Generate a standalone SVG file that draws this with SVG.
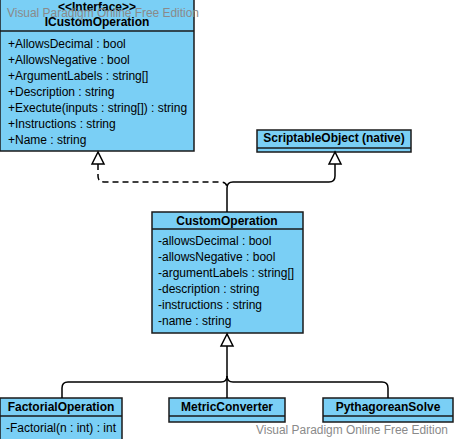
<svg xmlns="http://www.w3.org/2000/svg" width="454" height="439" viewBox="0 0 454 439">
<style>
.box{fill:#7ACFF5;stroke:#1a1a1a;stroke-width:1.5}
.div{stroke:#1a1a1a;stroke-width:1.5}
text{font-family:"Liberation Sans",Arial,sans-serif;font-size:12px;fill:#000}
.t{font-weight:bold;text-anchor:middle}
.wm{fill:#8a8a8a;font-size:12px}
.c{fill:none;stroke:#000;stroke-width:1.5}
.d{stroke-dasharray:6,4}
.arr{fill:#fff;stroke:#000;stroke-width:1.5}
</style>
<rect width="454" height="439" fill="#fff"/>
<g id="ICustomOperation">
<rect class="box" x="0" y="-3" width="194" height="154"/>
<line class="div" x1="0" y1="31" x2="194" y2="31"/>
<text class="t" x="97" y="11">&lt;&lt;Interface&gt;&gt;</text>
<text class="t" x="97" y="26">ICustomOperation</text>
<text x="8" y="48">+AllowsDecimal : bool</text>
<text x="8" y="64">+AllowsNegative : bool</text>
<text x="8" y="80">+ArgumentLabels : string[]</text>
<text x="8" y="96">+Description : string</text>
<text x="8" y="112">+Exectute(inputs : string[]) : string</text>
<text x="8" y="128">+Instructions : string</text>
<text x="8" y="144">+Name : string</text>
</g>
<g id="ScriptableObject">
<rect class="box" x="257" y="130" width="154" height="22"/>
<line class="div" x1="257" y1="148" x2="411" y2="148"/>
<text class="t" x="334" y="142">ScriptableObject (native)</text>
</g>
<g id="CustomOperation">
<rect class="box" x="152" y="212" width="151" height="121"/>
<line class="div" x1="152" y1="229" x2="303" y2="229"/>
<text class="t" x="227" y="225">CustomOperation</text>
<text x="158" y="245">-allowsDecimal : bool</text>
<text x="158" y="261">-allowsNegative : bool</text>
<text x="158" y="277">-argumentLabels : string[]</text>
<text x="158" y="293">-description : string</text>
<text x="158" y="309">-instructions : string</text>
<text x="158" y="325">-name : string</text>
</g>
<g id="FactorialOperation">
<rect class="box" x="0" y="398" width="122" height="44"/>
<line class="div" x1="0" y1="416" x2="122" y2="416"/>
<text class="t" x="61" y="411">FactorialOperation</text>
<text x="6" y="432">-Factorial(n : int) : int</text>
</g>
<g id="MetricConverter">
<rect class="box" x="169" y="398" width="116" height="24"/>
<line class="div" x1="169" y1="416" x2="285" y2="416"/>
<text class="t" x="227" y="411">MetricConverter</text>
</g>
<g id="PythagoreanSolve">
<rect class="box" x="323" y="398" width="130" height="24"/>
<line class="div" x1="323" y1="416" x2="453" y2="416"/>
<text class="t" x="388" y="411">PythagoreanSolve</text>
</g>
<g id="connectors">
<path class="c d" d="M98,164 V176 Q98,182 104,182 H221 Q227,182 227,188"/>
<path class="c" d="M335,164 V176 Q335,182 329,182 H233 Q227,182 227,188 V212"/>
<polygon class="arr" points="98,152 92,164 104,164"/>
<polygon class="arr" points="335,152 329,164 341,164"/>
<path class="c" d="M227,346 V398"/>
<path class="c" d="M227,376 Q227,382 221,382 H68 Q62,382 62,388 V398"/>
<path class="c" d="M227,376 Q227,382 233,382 H382 Q388,382 388,388 V398"/>
<polygon class="arr" points="227,334 221,346 233,346"/>
</g>
<text class="wm" x="7" y="17" textLength="192" lengthAdjust="spacingAndGlyphs">Visual Paradigm Online Free Edition</text>
<text class="wm" x="256" y="434" textLength="192" lengthAdjust="spacingAndGlyphs">Visual Paradigm Online Free Edition</text>
</svg>
